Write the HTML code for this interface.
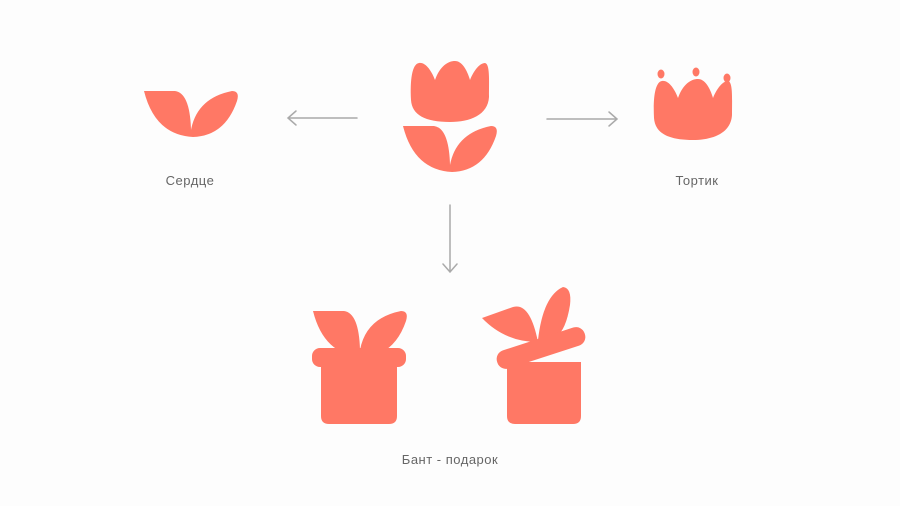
<!DOCTYPE html>
<html><head><meta charset="utf-8"><style>
html,body{margin:0;padding:0;background:#fdfdfd;}
svg{display:block}
text{font-family:"Liberation Sans",sans-serif;font-size:13px;fill:#666;letter-spacing:0.5px}
</style></head><body>
<svg width="900" height="506" viewBox="0 0 900 506" xmlns="http://www.w3.org/2000/svg">
<defs>
<path id="heart" d="M144,91 L175,91 Q190,93 191,130 Q197,98 232,91 Q240,91 237,101 Q225,136 193,137 Q155,135 144,91 Z"/>
<path id="head" d="M411,100 C410,80 412,64 419,63 C426,62 432,72 435,80 C440,66 448,61 455,61 C462,61 467,70 470,80 C474,70 480,63 485,63 C490,64 489,80 489,97 C488,115 470,122 450,122 C425,122 412,115 411,100 Z"/>
</defs>
<g fill="#ff7865">
<use href="#heart"/>
<use href="#head"/>
<use href="#heart" transform="translate(259,35)"/>
<use href="#head" transform="translate(243,18)"/>
<ellipse cx="661" cy="74" rx="3.5" ry="4.5"/>
<ellipse cx="696" cy="72" rx="3.5" ry="4.5"/>
<ellipse cx="727" cy="78" rx="3.5" ry="4.5"/>
<use href="#heart" transform="translate(169,220)"/>
<rect x="312" y="348" width="94" height="19" rx="8"/>
<path d="M321,360 H397 V416 Q397,424 389,424 H329 Q321,424 321,416 Z"/>
<path d="M482,318 L513,307 Q530,302 538,342 Q505,342 482,318 Z"/>
<path d="M538,340 Q543,296 563,287 Q572,288 570,305 Q566,330 556,337 Z"/>
<rect x="495" y="338.5" width="92" height="19" rx="9" transform="rotate(-18 541 348)"/>
<path d="M507,362 H581 V416 Q581,424 573,424 H515 Q507,424 507,416 Z"/>
</g>
<g stroke="#aaa" stroke-width="1.5" fill="none" stroke-linecap="round">
<path d="M357,118 H288 M296,111 L288,118 L296,125"/>
<path d="M547,119 H617 M609,112 L617,119 L609,126"/>
<path d="M450,205 V272 M443,264 L450,272 L457,264"/>
</g>
<text x="190" y="185" text-anchor="middle">Сердце</text>
<text x="697" y="185" text-anchor="middle">Тортик</text>
<text x="450" y="464" text-anchor="middle">Бант - подарок</text>
</svg>
</body></html>
